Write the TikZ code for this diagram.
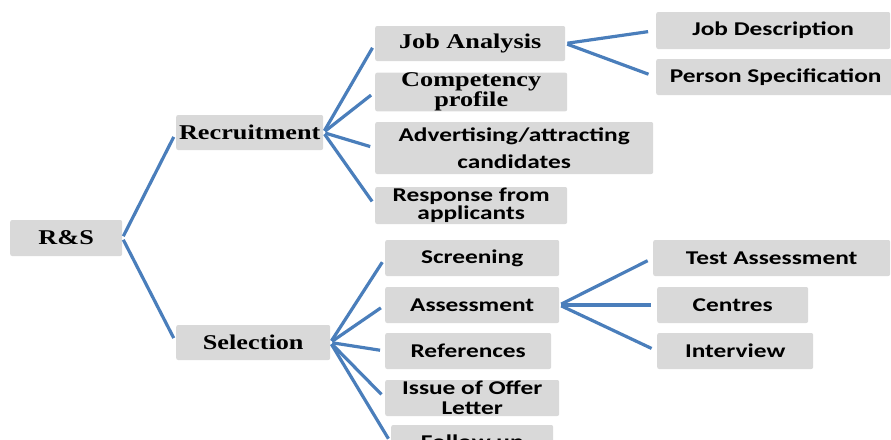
\documentclass[tikz,border=0pt]{standalone}
\usepackage{fontspec}
\newfontfamily\rsserif{Liberation Serif}[FakeStretch=1.25]
\newfontfamily\rssans{Carlito}[FakeStretch=1.3]
\definecolor{branchblue}{RGB}{74,126,187}
\definecolor{boxgray}{RGB}{217,217,217}

\begin{document}
\begin{tikzpicture}[
  x=1pt, y=-1pt,
  serif_box/.style={rectangle, rounded corners=2pt, fill=boxgray, inner sep=0pt, align=center, font=\rsserif\bfseries\fontsize{21}{17}\selectfont},
  sans_box/.style={rectangle, rounded corners=2pt, fill=boxgray, inner sep=0pt, align=center, font=\rssans\bfseries\fontsize{19.5}{17}\selectfont},
  branch/.style={draw=branchblue, line width=3.2pt, shorten <=2pt, shorten >=5pt},
]
\useasboundingbox (0,0) rectangle (891,439);
\clip (0,0) rectangle (891,439);

% root and first level
\draw (10,238) node (rs) [serif_box, right, minimum width=112pt, minimum height=36pt] {R\&S};
\draw (176,132.5) node (rec) [serif_box, right, minimum width=147pt, minimum height=35pt] {Recruitment};
\draw (176,342.5) node (sel) [serif_box, right, minimum width=154pt, minimum height=35pt] {Selection};

% recruitment steps
\draw (375,43.5) node (ja) [serif_box, right, minimum width=190pt, minimum height=35pt] {Job Analysis};
\draw (375,92) node (cp) [serif_box, right, minimum width=192pt, minimum height=36pt] {Competency\\profile};
\draw (375,148) node (adv) [sans_box, right, minimum width=278pt, minimum height=52pt] {Advertising/attracting\\[10pt]candidates};
\draw (375,205.5) node (resp) [sans_box, right, minimum width=192pt, minimum height=37pt] {Response from\\[1pt]applicants};

% selection steps
\draw (385,258) node (scr) [sans_box, right, minimum width=174pt, minimum height=36pt] {Screening};
\draw (385,305) node (ass) [sans_box, right, minimum width=174pt, minimum height=36pt] {Assessment};
\draw (385,351) node (refs) [sans_box, right, minimum width=166pt, minimum height=36pt] {References};
\draw (385,398) node (iss) [sans_box, right, minimum width=174pt, minimum height=36pt] {Issue of Offer\\[3pt]Letter};
\draw (391,443) node (fol) [sans_box, right, minimum width=162pt, minimum height=36pt] {Follow up};

% third level
\draw (656,30.5) node (jd) [sans_box, right, minimum width=234pt, minimum height=37pt] {Job Description};
\draw (656,77) node (ps) [sans_box, right, minimum width=239pt, minimum height=36pt] {Person Specification};
\draw (653,258) node (ta) [sans_box, right, minimum width=237pt, minimum height=36pt] {Test Assessment};
\draw (657,305) node (cen) [sans_box, right, minimum width=151pt, minimum height=36pt] {Centres};
\draw (657,351) node (intv) [sans_box, right, minimum width=156pt, minimum height=36pt] {Interview};

% connectors
\draw [branch] (rs.east) -- (rec.west);
\draw [branch] (rs.east) -- (sel.west);
\foreach \n in {ja, cp, adv, resp}
  \draw [branch] (rec.east) -- (\n.west);
\foreach \n in {scr, ass, refs, iss, fol}
  \draw [branch] (sel.east) -- (\n.west);
\foreach \n in {jd, ps}
  \draw [branch, shorten >=8pt] (ja.east) -- (\n.west);
\foreach \n in {ta, cen, intv}
  \draw [branch, shorten >=6pt] (ass.east) -- (\n.west);
\end{tikzpicture}
\end{document}
